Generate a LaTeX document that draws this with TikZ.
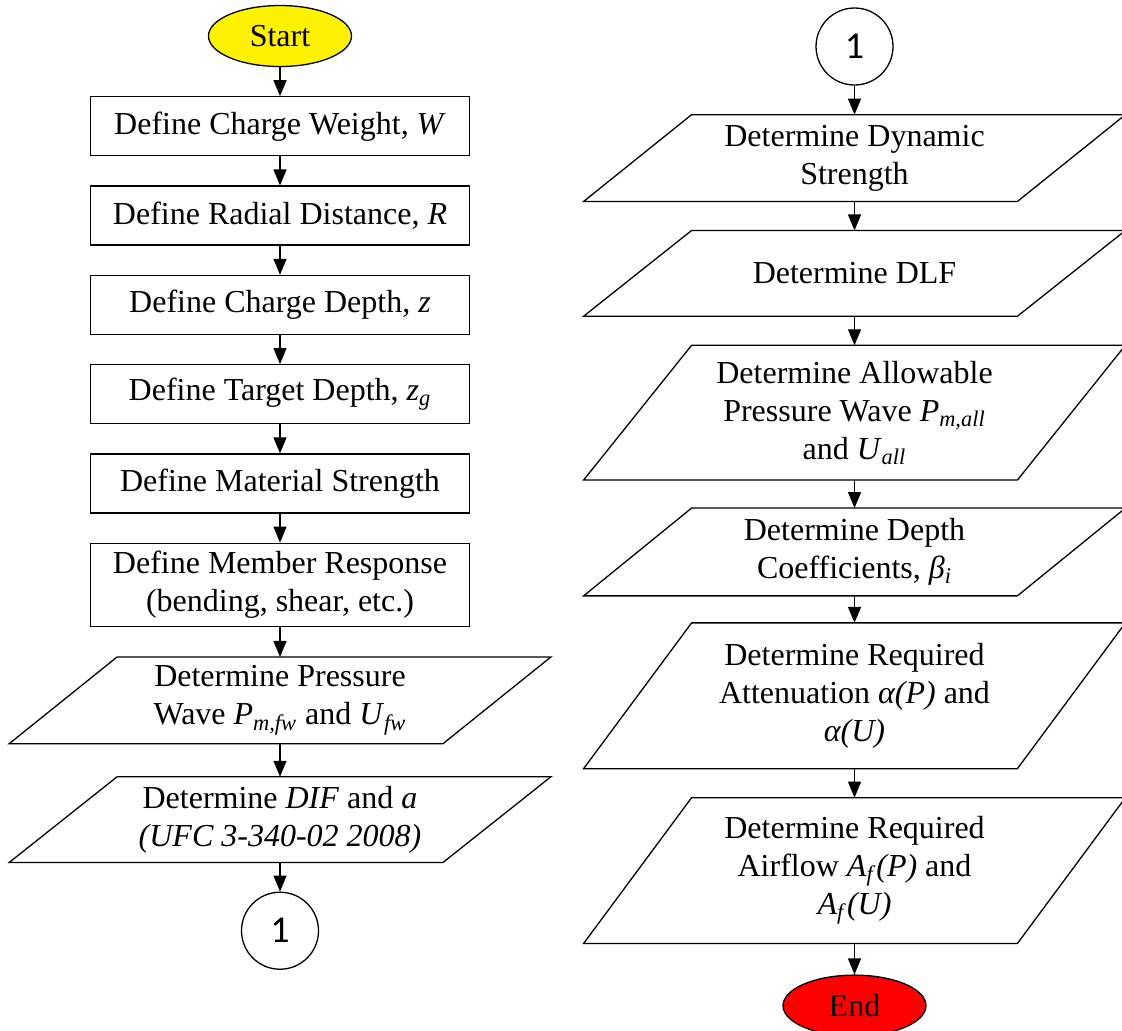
\documentclass[tikz,border=0pt]{standalone}
\usepackage{fontspec}
\setmainfont{Liberation Serif}
\newfontfamily\digitfont{Carlito}
\usetikzlibrary{shapes.geometric, arrows.meta, positioning}

\begin{document}
\begin{tikzpicture}[
  x=0.5pt, y=-0.5pt,
  node distance=14.5pt,
  every node/.style={font=\fontsize{16}{19}\selectfont},
  base/.style={draw=black, line width=0.65pt, align=center, inner sep=2pt},
  box/.style={base, rectangle, minimum width=189.5pt, minimum height=29.5pt},
  para/.style={rectangle, align=center, inner sep=0pt,
               minimum width=162.5pt, minimum height=#1,
               append after command={\pgfextra{\draw[line width=0.65pt]
                 (\tikzlastnode.north west) -- ([xshift=54pt]\tikzlastnode.north east)
                 -- (\tikzlastnode.south east) -- ([xshift=-54pt]\tikzlastnode.south west)
                 -- cycle;}}},
  term/.style={base, ellipse, minimum width=71.5pt, minimum height=30.5pt, inner sep=0pt},
  conn/.style={base, circle, minimum size=38.5pt, inner sep=0pt,
               font=\digitfont\fontsize{19}{22}\selectfont},
  arrow/.style={-{Triangle[length=8pt, width=6.5pt]}, line width=0.65pt}
]
\useasboundingbox (0,0) rectangle (1122,1030);

\node[term, fill=yellow] (start) at (280,36) {Start};
\node[box, below=of start] (weight) {Define Charge Weight, \textit{W}};
\node[box, below=of weight] (radial) {Define Radial Distance, \textit{R}};
\node[box, below=of radial] (cdepth) {Define Charge Depth, \textit{z}};
\node[box, below=of cdepth] (tdepth) {Define Target Depth, \textit{z}\textsubscript{\textit{g}}};
\node[box, below=of tdepth] (matl) {Define Material Strength};
\node[box, minimum height=41.5pt, below=of matl] (resp) {Define Member Response\\(bending, shear, etc.)};
\node[para=43pt, below=15pt of resp] (wave) {Determine Pressure\\Wave \textit{P}\textsubscript{\textit{m,fw}} and \textit{U}\textsubscript{\textit{fw}}};
\node[para=42.5pt, below=16.5pt of wave] (dif) {Determine \textit{DIF} and \textit{a}\\\textit{(UFC 3-340-02 2008)}};
\node[conn, below=of dif] (jumpA) {1};

\node[conn] (jumpB) at (854.5,46.5) {1};
\node[para=43pt, below=of jumpB] (dyn) {Determine Dynamic\\Strength};
\node[para=42.5pt, below=of dyn] (dlf) {Determine DLF};
\node[para=67pt, below=of dlf] (allow) {Determine Allowable\\Pressure Wave \textit{P}\textsubscript{\textit{m,all}}\\and \textit{U}\textsubscript{\textit{all}}};
\node[para=43.5pt, below=14pt of allow] (coef) {Determine Depth\\Coefficients, \textit{β}\textsubscript{\textit{i}}};
\node[para=72.5pt, below=13.5pt of coef] (atten) {Determine Required\\Attenuation \textit{α(P)} and\\\textit{α(U)}};
\node[para=72.5pt, below=of atten] (airflow) {Determine Required\\Airflow \textit{A}\textsubscript{\textit{f}}\textit{(P)} and\\\textit{A}\textsubscript{\textit{f}}\textit{(U)}};
\node[term, fill=red, below=15.5pt of airflow] (finish) {End};

\draw[arrow] (start) -- (weight);
\draw[arrow] (weight) -- (radial);
\draw[arrow] (radial) -- (cdepth);
\draw[arrow] (cdepth) -- (tdepth);
\draw[arrow] (tdepth) -- (matl);
\draw[arrow] (matl) -- (resp);
\draw[arrow] (resp) -- (wave);
\draw[arrow] (wave) -- (dif);
\draw[arrow] (dif) -- (jumpA);

\draw[arrow] (jumpB) -- (dyn);
\draw[arrow] (dyn) -- (dlf);
\draw[arrow] (dlf) -- (allow);
\draw[arrow] (allow) -- (coef);
\draw[arrow] (coef) -- (atten);
\draw[arrow] (atten) -- (airflow);
\draw[arrow] (airflow) -- (finish);
\end{tikzpicture}
\end{document}
